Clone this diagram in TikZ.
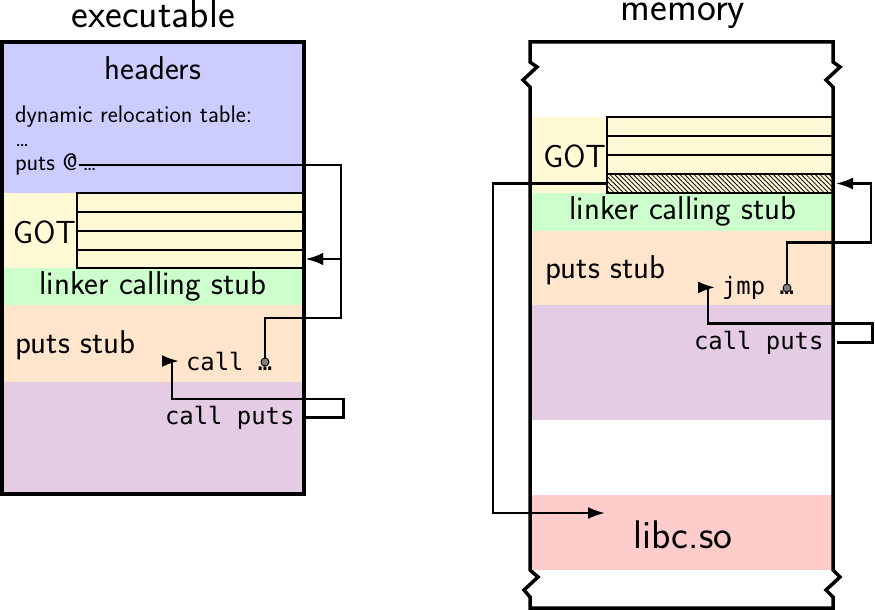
\documentclass[tikz,border=0pt]{standalone}
\usepackage{fontspec}
\setmonofont{DejaVu Sans Mono}
\usetikzlibrary{arrows.meta,patterns.meta,calc}
\definecolor{hdrblue}{RGB}{204,204,255}
\definecolor{gotyellow}{RGB}{255,249,214}
\definecolor{stubgreen}{RGB}{204,255,204}
\definecolor{pltpeach}{RGB}{255,229,204}
\definecolor{codepurple}{RGB}{229,204,229}
\definecolor{libred}{RGB}{255,204,204}
\begin{document}
\begin{tikzpicture}[x=1pt,y=-1pt,
  every node/.style={inner sep=0pt, outer sep=0pt, font=\sffamily},
  frame/.style={line width=3.5pt, line join=miter},
  rowcell/.style={draw, line width=2.4pt, fill=gotyellow, minimum width=227pt,
    minimum height=19pt, anchor=north west},
  hatched/.style={preaction={fill=gotyellow},
    pattern={Lines[angle=-45,distance=3.3pt,line width=0.8pt]}},
  conn/.style={line width=2.4pt},
  arrowed/.style={-{Latex[length=17pt,width=12pt]}},
  pin/.style={circle, draw, fill=gray, line width=0.9pt, minimum size=8pt},
  titletext/.style={font=\sffamily\fontsize{40}{46}\selectfont},
  label/.style={font=\sffamily\fontsize{33}{38}\selectfont},
  gotlabel/.style={font=\sffamily\fontsize{32}{38}\selectfont},
  smalltext/.style={font=\sffamily\fontsize{24}{28}\selectfont},
  codetext/.style={font=\ttfamily\fontsize{23.9}{28}\selectfont}]

\useasboundingbox (0,0) rectangle (875,610);

% ---- executable: coloured sections
\fill[hdrblue]    (2,42)  rectangle (304,193);
\fill[gotyellow]  (2,193) rectangle (304,268);
\fill[stubgreen]  (2,268) rectangle (304,305);
\fill[pltpeach]   (2,305) rectangle (304,382);
\fill[codepurple] (2,382) rectangle (304,494);

% ---- memory: coloured sections
\fill[gotyellow]  (530,117) rectangle (833,193);
\fill[stubgreen]  (530,193) rectangle (833,231);
\fill[pltpeach]   (530,231) rectangle (833,305);
\fill[codepurple] (530,305) rectangle (833,420);
\fill[libred]     (530,495) rectangle (833,570);

% ---- GOT entries
\node[rowcell] (lg1) at (77,193) {};
\node[rowcell] (lg2) at (77,212) {};
\node[rowcell] (lg3) at (77,231) {};
\node[rowcell, minimum height=18pt] (lg4) at (77,250) {};

\node[rowcell, minimum width=226pt] (rg1) at (607,117) {};
\node[rowcell, minimum width=226pt] (rg2) at (607,136) {};
\node[rowcell, minimum width=226pt] (rg3) at (607,155) {};
\node[rowcell, minimum width=226pt, hatched] (rg4) at (607,174) {};

% ---- titles
\node[titletext, anchor=base] (exetitle) at (153,28) {executable};
\node[titletext, anchor=base] (memtitle) at (683,21) {memory};

% ---- executable labels
\node[label] (headers) at (153,68) {headers};
\node[smalltext, anchor=base west] (reltab) at (15,122) {dynamic relocation table:};
\node[smalltext, anchor=base west] (relmore) at (15,146) {\ldots};
\node[smalltext, anchor=base west] (putsat) at (15,170) {puts @};
\node[smalltext, anchor=base west] (putsrest) at ($(putsat.base east)+(5,0)$) {\ldots};
\node[gotlabel, anchor=east] (gotL) at (76,232) {GOT};
\node[label] (lcsL) at (153,286) {linker calling stub};
\node[label, anchor=base west] (stubL) at (15,353) {puts stub};
\node[codetext, anchor=base west] (callL) at (186,370) {call …};
\node[codetext, anchor=base west] (cpL) at (165,424) {call puts};

% ---- memory labels
\node[gotlabel, anchor=east] (gotR) at (606,156) {GOT};
\node[label] (lcsR) at (683,211) {linker calling stub};
\node[label, anchor=base west] (stubR) at (545,278) {puts stub};
\node[codetext, anchor=base west] (jmpR) at (722,294) {jmp …};
\node[codetext, anchor=base west] (cpR) at (694,349) {call puts};
\node[font=\sffamily\fontsize{40}{46}\selectfont] (libc) at (683,535) {libc.so};

% ---- outlines
\draw[frame] (2,42) rectangle (304,494);
\draw[frame] (530,42) -- (833,42) -- (833,62) -- (840,67) -- (826,80) -- (833,87)
  -- (833,570) -- (840,577) -- (826,590) -- (833,597) -- (833,608)
  -- (530,608) -- (530,597) -- (524,590) -- (538,577) -- (530,570)
  -- (530,87) -- (523,80) -- (537,67) -- (530,62) -- cycle;

% ---- pins on the call/jmp operands
\node[pin] (calldot) at (265,362) {};
\node[pin] (jmpdot) at (787,288) {};

% ---- executable connectors
\coordinate (atmark) at ($(putsat.base east)+(1,-5)$);
\draw[conn, arrowed, shorten >=2pt] (atmark) -| ($(lg4.east)+(37,0)$) -- (lg4.east);
\draw[conn, arrowed, shorten >=2pt] (calldot) |- ($(lg4.east)+(37,59)$) |- (lg4.east);
\draw[conn] ($(cpL.east)+(10,0)$) -- ++(39,0) |- ($(callL.west)+(-14,38)$)
  -- ($(callL.west)+(-14,0)$);
\draw[conn, arrowed] ($(callL.west)+(-14,0)$) -- ($(callL.west)+(-7,0)$);

% ---- memory connectors
\coordinate (libcin) at (605,513);
\draw[conn, arrowed, shorten >=3pt] (jmpdot) |- ($(rg4.east)+(38,59)$) |- (rg4.east);
\draw[conn, arrowed] (rg4.west) -- ++(-114,0) |- (libcin);
\draw[conn] ($(cpR.east)+(13,0)$) -- ++(36,0) |- ($(jmpR.west)+(-14,36)$)
  -- ($(jmpR.west)+(-14,0)$);
\draw[conn, arrowed] ($(jmpR.west)+(-14,0)$) -- ($(jmpR.west)+(-7,0)$);
\end{tikzpicture}
\end{document}
